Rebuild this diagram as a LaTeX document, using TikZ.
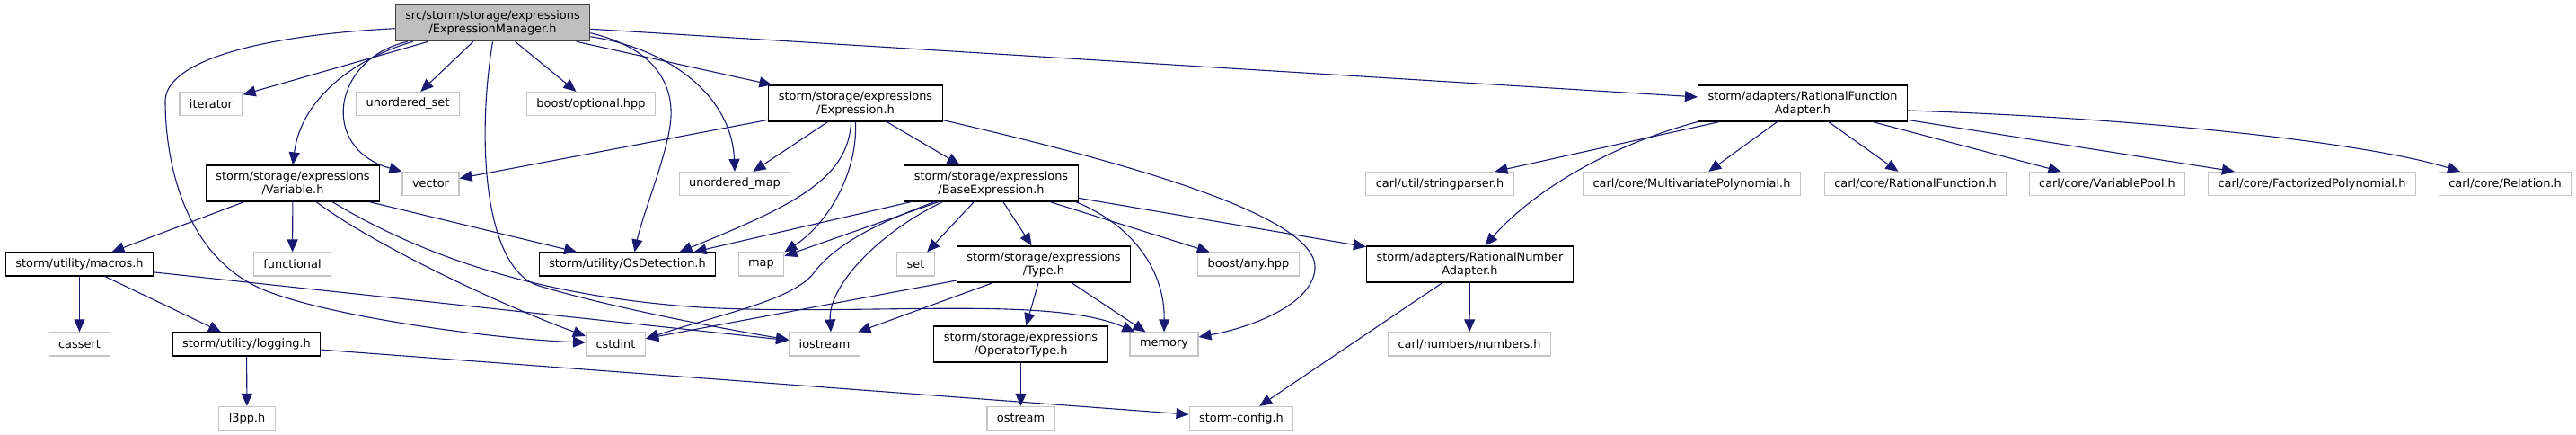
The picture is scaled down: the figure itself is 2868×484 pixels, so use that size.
\documentclass[tikz,border=0pt]{standalone}
\usepackage{fontspec}
\setmainfont{DejaVu Sans}
\usepackage{tikz}
\usetikzlibrary{arrows.meta}

\definecolor{inclblue}{HTML}{191970}
\definecolor{rootgrey}{HTML}{BFBFBF}
\definecolor{rootline}{HTML}{404040}
\definecolor{extline}{HTML}{C4C4C4}

\begin{document}
\begin{tikzpicture}[
  x=1pt, y=-1pt,
  hfile/.style={draw=black, fill=white, line width=1.2pt, inner xsep=11pt, inner ysep=2pt, minimum height=26pt, font=\fontsize{12.9}{15}\selectfont, align=center},
  extfile/.style={hfile, draw=extline},
  rootfile/.style={hfile, fill=rootgrey, draw=rootline},
  twoline/.style={minimum height=40pt},
  incl/.style={-{Triangle[length=14pt,width=12pt]}, draw=inclblue, line width=1.1pt}
]
  \useasboundingbox (0,0) rectangle (2868,484);

  % files
  \node[rootfile, twoline] (root) at (548.5,25.7) {src/storm/storage/expressions\\/ExpressionManager.h};
  \node[extfile] (iterator) at (235,115.5) {iterator};
  \node[extfile] (uset) at (454,115.5) {unordered\_set};
  \node[extfile] (optional) at (658,115.5) {boost/optional.hpp};
  \node[hfile, twoline] (expr) at (952.5,115) {storm/storage/expressions\\/Expression.h};
  \node[hfile, twoline] (rfa) at (2007,115) {storm/adapters/RationalFunction\\Adapter.h};

  \node[hfile, twoline] (var) at (326,204) {storm/storage/expressions\\/Variable.h};
  \node[extfile] (vector) at (479.5,204.5) {vector};
  \node[extfile] (umap) at (818,204.5) {unordered\_map};
  \node[hfile, twoline] (base) at (1103.5,204) {storm/storage/expressions\\/BaseExpression.h};
  \node[extfile] (strparser) at (1603,204.5) {carl/util/stringparser.h};
  \node[extfile] (multipoly) at (1883.5,204.5) {carl/core/MultivariatePolynomial.h};
  \node[extfile] (ratfunc) at (2132.5,204.5) {carl/core/RationalFunction.h};
  \node[extfile] (varpool) at (2346,204.5) {carl/core/VariablePool.h};
  \node[extfile] (factpoly) at (2574,204.5) {carl/core/FactorizedPolynomial.h};
  \node[extfile] (relation) at (2789,204.5) {carl/core/Relation.h};

  \node[hfile] (macros) at (88.5,294) {storm/utility/macros.h};
  \node[extfile] (functional) at (325.5,294) {functional};
  \node[hfile] (osdet) at (698.5,294) {storm/utility/OsDetection.h};
  \node[extfile] (map) at (847.5,294) {map};
  \node[extfile] (set) at (1019.5,294) {set};
  \node[hfile, twoline] (type) at (1162,294) {storm/storage/expressions\\/Type.h};
  \node[extfile] (anyhpp) at (1390,294) {boost/any.hpp};
  \node[hfile, twoline] (rna) at (1636.5,294) {storm/adapters/RationalNumber\\Adapter.h};

  \node[extfile] (cassert) at (88.5,383) {cassert};
  \node[hfile] (logging) at (274.5,383) {storm/utility/logging.h};
  \node[extfile] (cstdint) at (685.5,383) {cstdint};
  \node[extfile] (iostream) at (918,383) {iostream};
  \node[hfile, twoline] (optype) at (1136.5,383) {storm/storage/expressions\\/OperatorType.h};
  \node[extfile] (memory) at (1296,383) {memory};
  \node[extfile] (numbers) at (1636,383) {carl/numbers/numbers.h};

  \node[extfile] (l3pp) at (275,465.5) {l3pp.h};
  \node[extfile] (ostream) at (1136.5,465.5) {ostream};
  \node[extfile] (config) at (1382,465.5) {storm-config.h};

  % includes of ExpressionManager.h
  \draw[incl] (root) -- (iterator);
  \draw[incl] (root) -- (uset);
  \draw[incl] (root) -- (optional);
  \draw[incl] (root) -- (expr);
  \draw[incl] (root) -- (rfa);
  \draw[incl] ([xshift=20]root.south west) .. controls (395,65) and (335,110) .. (var.north);
  \draw[incl] ([xshift=14]root.south west) .. controls (370,65) and (355,165) .. (vector.north west);
  \draw[incl] ([yshift=-15]root.east) .. controls (750,55) and (815,110) .. (umap.north);
  \draw[incl] ([yshift=-11]root.east) .. controls (735,55) and (752,100) .. (746,140)
    .. controls (740,180) and (715,240) .. ([xshift=8]osdet.north);
  \draw[incl] ([yshift=-6]root.west) .. controls (280,40) and (185,70) .. (184,112)
    .. controls (184,180) and (205,290) .. (300,325)
    .. controls (380,355) and (560,378) .. ([yshift=2]cstdint.west);
  \draw[incl] (root.south) .. controls (530,160) and (540,300) .. (600,318)
    .. controls (680,342) and (800,365) .. ([yshift=5]iostream.west);

  % Variable.h
  \draw[incl] (var) -- (macros);
  \draw[incl] (var) -- (functional);
  \draw[incl] (var) -- (osdet);
  \draw[incl] ([xshift=26]var.south) .. controls (420,275) and (560,340) .. ([yshift=9]cstdint.west);
  \draw[incl] ([xshift=44]var.south) .. controls (470,285) and (600,330) .. (780,342)
    .. controls (960,352) and (1170,328) .. ([xshift=6]memory.north west);

  % utility headers
  \draw[incl] (macros) -- (cassert);
  \draw[incl] (macros) -- (logging);
  \draw[incl] (macros) -- (iostream);
  \draw[incl] (logging) -- (l3pp);
  \draw[incl] (logging) -- (config);

  % Expression.h
  \draw[incl] (expr) -- (vector);
  \draw[incl] (expr) -- (umap);
  \draw[incl] (expr) -- (base);
  \draw[incl] ([xshift=-5]expr.south) .. controls (945,200) and (880,230) .. ([xshift=58]osdet.north);
  \draw[incl] (expr.south) .. controls (955,195) and (920,250) .. (map.north east);
  \draw[incl] ([yshift=2]expr.south east) .. controls (1250,180) and (1470,240) .. (1464,300)
    .. controls (1460,340) and (1390,365) .. ([yshift=8]memory.east);

  % BaseExpression.h
  \draw[incl] (base) -- ([xshift=74]osdet.north);
  \draw[incl] (base) -- (map);
  \draw[incl] (base) -- (set);
  \draw[incl] (base) -- (type);
  \draw[incl] (base) -- (anyhpp);
  \draw[incl] (base) -- (rna);
  \draw[incl] ([xshift=-63]base.south) .. controls (985,245) and (930,270) .. (905,305)
    .. controls (880,335) and (800,350) .. ([yshift=6]cstdint.east);
  \draw[incl] ([xshift=-54]base.south) .. controls (985,255) and (922,315) .. ([xshift=7]iostream.north);
  \draw[incl] ([xshift=-3]base.south east) .. controls (1260,250) and (1297,300) .. (memory.north);

  % Type.h
  \draw[incl] (type) -- (cstdint);
  \draw[incl] (type) -- (iostream);
  \draw[incl] (type) -- (optype);
  \draw[incl] (type) -- (memory);
  \draw[incl] (optype) -- (ostream);

  % adapters
  \draw[incl] (rna) -- (numbers);
  \draw[incl] (rna) -- (config);
  \draw[incl] (rfa) -- (strparser);
  \draw[incl] (rfa) -- (multipoly);
  \draw[incl] (rfa) -- (ratfunc);
  \draw[incl] (rfa) -- (varpool);
  \draw[incl] (rfa) -- (factpoly);
  \draw[incl] ([yshift=-8]rfa.east) .. controls (2400,132) and (2640,160) .. ([xshift=-50]relation.north);
  \draw[incl] (rfa.south west) .. controls (1780,165) and (1700,220) .. ([xshift=17]rna.north);
\end{tikzpicture}
\end{document}
